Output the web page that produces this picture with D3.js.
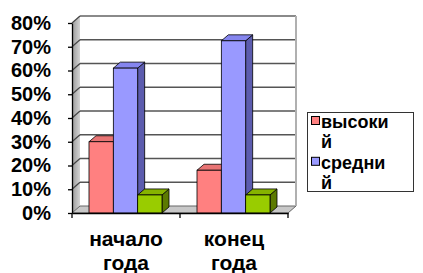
<!DOCTYPE html>
<html><head><meta charset="utf-8">
<script src="https://cdn.jsdelivr.net/npm/d3@7"></script>
<style>
html,body{margin:0;padding:0;background:#fff;}
svg{display:block;font-family:Arial,"Liberation Sans",sans-serif;font-weight:bold;}
</style></head>
<body><svg id="chart" width="423" height="273"></svg>
<script>
const categories = ["начало года", "конец года"];
const seriesNames = ["высокий", "средний", "низкий"];
const legendLines = [["высоки", "й"], ["средни", "й"]];
const vysokiy = [0.30, 0.18];
const sredniy = [0.61, 0.725];
const nizkiy = [0.076, 0.076];
const yTicks = [0, 0.1, 0.2, 0.3, 0.4, 0.5, 0.6, 0.7, 0.8];

const seriesValues = [vysokiy, sredniy, nizkiy];
const fronts = ["#FF8080", "#9999FF", "#99CC00"];
const tops = ["#E87474", "#8585EE", "#86B300"];
const sides = ["#B85C5C", "#5C5CAE", "#5C7A00"];

const svg = d3.select("#chart");
const x0 = d3.scaleBand().domain(categories).range([72, 288]);
const x1 = d3.scaleBand().domain(seriesNames).range([17, 90]);
const y = d3.scaleLinear().domain([0, 0.8]).range([213, 23]);
const W = {dx: 8, dy: -7};
const B = {dx: 7, dy: -6};
const xL = x0.range()[0], xR = x0.range()[1];

const defs = svg.append("defs");
const g1 = defs.append("linearGradient").attr("id","lw").attr("x1","0").attr("x2","1").attr("y1","0").attr("y2","0");
g1.append("stop").attr("offset","0").attr("stop-color","#999");
g1.append("stop").attr("offset","1").attr("stop-color","#d4d4d4");

// back wall
svg.append("rect").attr("x", xL + W.dx).attr("y", y(0.8) + W.dy)
  .attr("width", xR - xL).attr("height", y(0) - y(0.8)).attr("fill", "#fff");
// left wall
svg.append("polygon").attr("points", [[xL, y(0.8)], [xL + W.dx, y(0.8) + W.dy], [xL + W.dx, y(0) + W.dy], [xL, y(0)]].map(p => p.join(",")).join(" "))
  .attr("fill", "url(#lw)");
// floor
svg.append("polygon").attr("points", [[xL, y(0)], [xL + W.dx, y(0) + W.dy], [xR + W.dx, y(0) + W.dy], [xR, y(0)]].map(p => p.join(",")).join(" "))
  .attr("fill", "#c8c8c8").attr("stroke", "#666").attr("stroke-width", 1);
// gridlines
svg.append("g").selectAll("line").data(yTicks.slice(1)).join("line")
  .attr("x1", xL + W.dx).attr("x2", xR + W.dx)
  .attr("y1", d => y(d) + W.dy).attr("y2", d => y(d) + W.dy)
  .attr("stroke", d => d === 0.8 ? "#8a8a8a" : "#555").attr("stroke-width", d => d === 0.8 ? 2 : 1.5);
svg.append("g").selectAll("line").data(yTicks.slice(1)).join("line")
  .attr("x1", xL).attr("x2", xL + W.dx)
  .attr("y1", d => y(d)).attr("y2", d => y(d) + W.dy)
  .attr("stroke", "#444").attr("stroke-width", 1.2);
// right edge of back wall
svg.append("line").attr("x1", xR + W.dx).attr("x2", xR + W.dx)
  .attr("y1", y(0.8) + W.dy).attr("y2", y(0) + W.dy)
  .attr("stroke", "#b0b0b0").attr("stroke-width", 2);

// bars
const bars = [];
categories.forEach((c, ci) => seriesNames.forEach((s, si) => bars.push({c, s, si, v: seriesValues[si][ci]})));
const bg = svg.append("g").selectAll("g").data(bars).join("g");
bg.each(function(d) {
  const g = d3.select(this);
  const xa = x0(d.c) + x1(d.s), xb = xa + x1.bandwidth();
  const yt = y(d.v), yb = y(0);
  g.append("polygon").attr("points", [[xb, yt], [xb + B.dx, yt + B.dy], [xb + B.dx, yb + B.dy], [xb, yb]].map(p => p.join(",")).join(" "))
    .attr("fill", sides[d.si]).attr("stroke", "#000").attr("stroke-width", 0.8).attr("stroke-linejoin", "round");
  g.append("polygon").attr("points", [[xa, yt], [xa + B.dx, yt + B.dy], [xb + B.dx, yt + B.dy], [xb, yt]].map(p => p.join(",")).join(" "))
    .attr("fill", tops[d.si]).attr("stroke", "#000").attr("stroke-width", 0.8).attr("stroke-linejoin", "round");
  g.append("rect").attr("x", xa).attr("y", yt).attr("width", xb - xa).attr("height", yb - yt)
    .attr("fill", fronts[d.si]).attr("stroke", "#000").attr("stroke-width", 0.8);
});

// y axis
const ya = svg.append("g").attr("transform", `translate(${xL},0)`)
  .call(d3.axisLeft(y).tickValues(yTicks).tickFormat(d3.format(".0%")).tickSizeInner(4).tickSizeOuter(0).tickPadding(17));
ya.select(".domain").attr("stroke", "#000").attr("stroke-width", 1.3);
ya.selectAll(".tick line").attr("stroke", "#000").attr("stroke-width", 1.3);
ya.selectAll(".tick text").attr("font-size", 20).attr("font-weight", "bold").attr("fill", "#000").attr("font-family", "Arial, 'Liberation Sans', sans-serif");

// x axis
const xa = svg.append("g").attr("transform", `translate(0,${y(0)})`)
  .call(d3.axisBottom(x0).tickSize(0).tickPadding(0));
xa.select(".domain").attr("stroke", "#000").attr("stroke-width", 1.3);
xa.selectAll(".tick text").remove();
const bounds = [xL, ...categories.map(c => x0(c) + x0.bandwidth())];
xa.selectAll(".bt").data(bounds).join("line").attr("class", "bt")
  .attr("x1", d => d).attr("x2", d => d).attr("y1", 0).attr("y2", 5)
  .attr("stroke", "#000").attr("stroke-width", 1.3);
const xt = xa.selectAll(".xl").data(categories).join("text").attr("class", "xl")
  .attr("x", d => x0(d) + x0.bandwidth() / 2).attr("text-anchor", "middle")
  .attr("font-size", 21).attr("font-weight", "bold").attr("fill", "#000");
xt.each(function(d) {
  const parts = d.split(" ");
  d3.select(this).selectAll("tspan").data(parts).join("tspan")
    .attr("x", x0(d) + x0.bandwidth() / 2).attr("y", (p, i) => 33 + i * 24).text(p => p);
});

// legend
const lg = svg.append("g");
lg.append("rect").attr("x", 307.5).attr("y", 112.5).attr("width", 106).attr("height", 79)
  .attr("fill", "#fff").attr("stroke", "#333").attr("stroke-width", 1);
const lt = lg.append("text").attr("font-size", 18).attr("fill", "#000");
const step = 20.4;
legendLines.forEach((lines, i) => {
  const base = 128 + i * 2 * step;
  lg.append("rect").attr("x", 311.5).attr("y", base - 11.5).attr("width", 8).attr("height", 8)
    .attr("fill", fronts[i]).attr("stroke", "#000").attr("stroke-width", 1);
  lines.forEach((s, j) => {
    lt.append("tspan").attr("x", 321).attr("y", base + j * step).text(s);
  });
});
</script></body></html>
